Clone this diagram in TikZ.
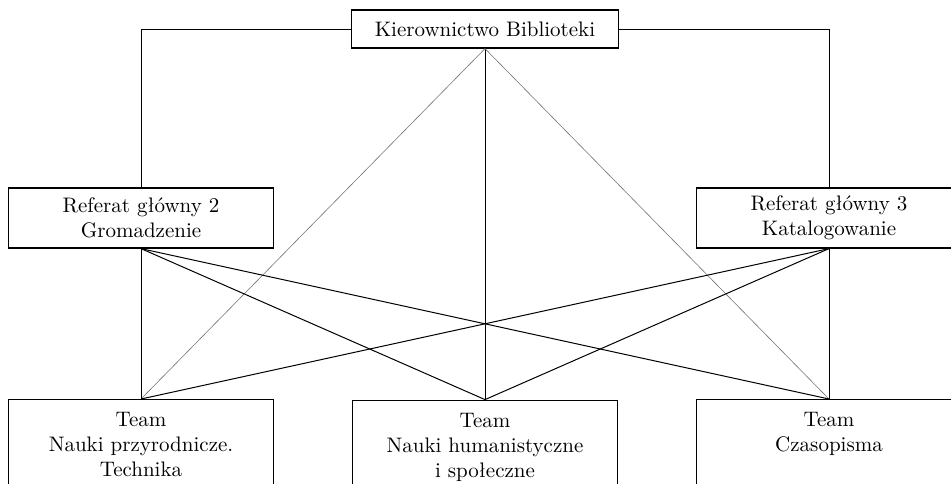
\documentclass[tikz,border=0pt]{standalone}
\usepackage{tikz}
\usetikzlibrary{positioning}

\begin{document}
\begin{tikzpicture}[x=0.5pt,y=-0.5pt,
	box/.style={draw,line width=0.6pt,minimum width=132.5pt,align=center,inner sep=3.3pt,font=\fontsize{10.5pt}{12.5pt}\selectfont},
	teambox/.style={box,anchor=north,inner ysep=6.5pt,text depth=45pt},
	link/.style={line width=0.5pt},
	thinlink/.style={line width=0.3pt,black!55}]
	
	\useasboundingbox (0,0) rectangle (951,483);
	\clip (0,0) rectangle (951,483);
	
	% management
	\node[box,minimum width=133.5pt,minimum height=19pt] (kb) at (485,29) {Kierownictwo Biblioteki};
	
	% main departments
	\node[box,minimum height=30pt] (ref2) at (141,218) {Referat główny 2\\Gromadzenie};
	\node[box,minimum height=30pt] (ref3) at (829,218) {Referat główny 3\\Katalogowanie};
	
	% teams
	\node[teambox] (team2) [below=175.5pt of kb] {Team\\Nauki humanistyczne\\i społeczne};
	\node[teambox] (team1) at (141,399) {Team\\Nauki przyrodnicze.\\Technika};
	\node[teambox] (team3) at (829,399) {Team\\Czasopisma};
	
	% connections of kb
	\draw[link] (kb.west) -| (ref2.north);
	\draw[link] (kb.east) -| (ref3.north);
	\draw[link] (kb.south) -- (team2.north);
	\draw[thinlink] (kb.south) -- (team1.north);
	\draw[thinlink] (kb.south) -- (team3.north);
	
	% connections of ref2
	\draw[link] (ref2.south) -- (team1.north);
	\draw[link] (ref2.south) -- (team2.north);
	\draw[link] (ref2.south) -- (team3.north);
	
	% connections of ref3
	\draw[link] (ref3.south) -- (team1.north);
	\draw[link] (ref3.south) -- (team2.north);
	\draw[link] (ref3.south) -- (team3.north);
	
\end{tikzpicture}
\end{document}
